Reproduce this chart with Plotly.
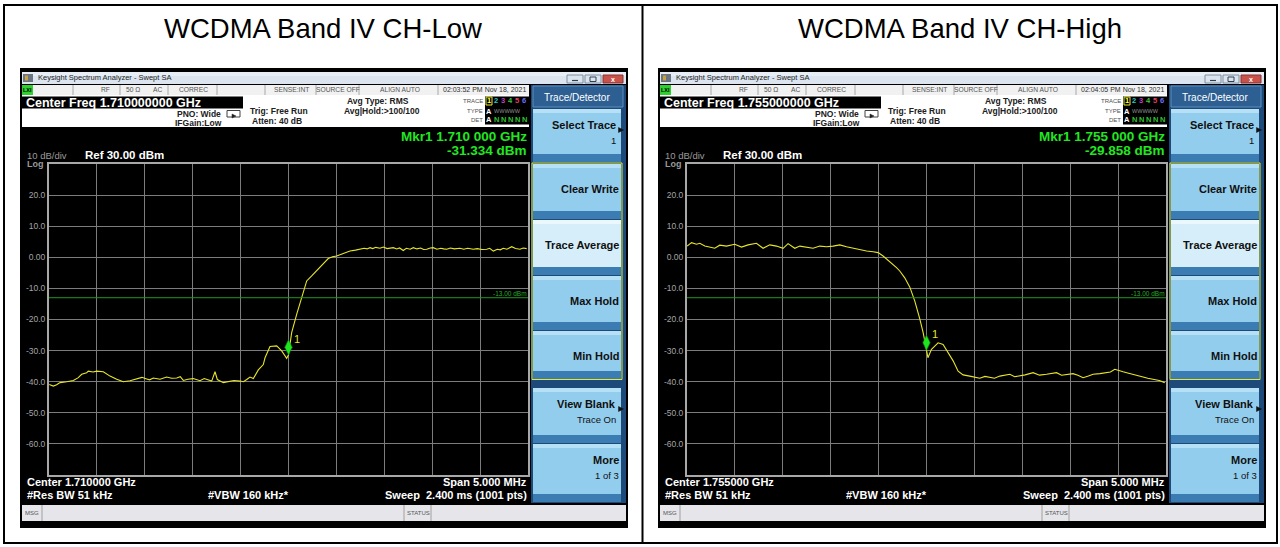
import plotly.graph_objects as go

W, H = 1280, 547

# ---------------- data ----------------
titles = ["WCDMA Band IV CH-Low", "WCDMA Band IV CH-High"]
center_freq_long = ["1.710000000", "1.755000000"]
center_freq_short = ["1.710000", "1.755000"]
timestamps = ["02:03:52 PM Nov 18, 2021", "02:04:05 PM Nov 18, 2021"]
marker_freq_text = ["1.710 000", "1.755 000"]
marker_offset_mhz = [0.0, 0.0]
marker_level_dbm = [-31.334, -29.858]
limit_dbm = -13.0
span_mhz = [-2.5, 2.5]
y_range = [-70, 30]
y_tickvals = [20, 10, 0, -10, -20, -30, -40, -50, -60]
y_ticktext = ["20.0", "10.0", "0.00", "-10.0", "-20.0", "-30.0", "-40.0", "-50.0", "-60.0"]
x_gridvals = [-2.0, -1.5, -1.0, -0.5, 0.0, 0.5, 1.0, 1.5, 2.0]

# CH-Low trace: frequency offset from centre (MHz) and level (dBm)
low_offset_mhz = [
    -2.497, -2.455, -2.42, -2.385, -2.315, -2.246, -2.194, -2.159, -2.107, -2.09,
    -2.04, -2.002, -1.933, -1.863, -1.793, -1.724, -1.655, -1.585, -1.53, -1.48,
    -1.45, -1.411, -1.341, -1.272, -1.22, -1.167, -1.13, -1.098, -1.05, -0.994,
    -0.96, -0.924, -0.88, -0.854, -0.802, -0.767, -0.743, -0.68, -0.611, -0.57,
    -0.506, -0.47, -0.436, -0.402, -0.367, -0.315, -0.263, -0.245, -0.193, -0.123,
    -0.071, -0.019, 0.0, 0.033, 0.086, 0.138, 0.19, 0.242, 0.294, 0.363,
    0.415, 0.46, 0.503, 0.572, 0.61, 0.642, 0.7, 0.746, 0.79, 0.82,
    0.851, 0.88, 0.91, 0.955, 0.99, 1.03, 1.06, 1.094, 1.13, 1.16,
    1.198, 1.23, 1.27, 1.303, 1.34, 1.38, 1.41, 1.443, 1.48, 1.511,
    1.55, 1.59, 1.62, 1.651, 1.69, 1.73, 1.79, 1.83, 1.87, 1.929,
    1.97, 2.02, 2.069, 2.1, 2.138, 2.18, 2.21, 2.242, 2.28, 2.33,
    2.37, 2.416, 2.45, 2.486]
low_level_dbm = [
    -40.9, -41.4, -41.0, -40.3, -40.0, -39.6, -38.7, -37.6, -37.1, -36.6,
    -36.9, -36.6, -36.8, -38.2, -39.2, -40.0, -39.7, -39.0, -38.6, -39.1,
    -39.4, -38.8, -39.2, -38.5, -38.9, -38.8, -38.4, -39.6, -39.2, -39.0,
    -39.4, -39.7, -39.0, -39.2, -39.8, -36.8, -39.3, -40.3, -40.0, -39.6,
    -39.8, -40.0, -39.3, -38.5, -39.0, -36.2, -34.5, -32.3, -28.7, -28.5,
    -30.1, -32.5, -31.334, -24.2, -18.3, -13.0, -7.6, -6.0, -4.4, -2.3,
    -0.4, 0.2, 0.4, 1.2, 1.6, 2.0, 2.3, 2.6, 2.9, 2.7,
    3.1, 2.8, 3.2, 2.9, 3.3, 2.8, 3.0, 3.1, 2.7, 3.0,
    2.2, 2.9, 2.6, 3.1, 2.7, 3.0, 2.5, 2.6, 3.0, 3.1,
    2.6, 2.9, 2.7, 2.6, 3.0, 2.7, 2.9, 2.6, 2.9, 2.6,
    2.8, 2.5, 2.6, 2.9, 2.0, 2.6, 2.4, 2.9, 2.6, 3.4,
    2.8, 2.6, 3.0, 2.8]

# CH-High trace
high_offset_mhz = [
    -2.499, -2.453, -2.401, -2.366, -2.314, -2.262, -2.21, -2.158, -2.088, -2.001,
    -1.931, -1.862, -1.775, -1.706, -1.636, -1.566, -1.497, -1.445, -1.375, -1.323,
    -1.253, -1.184, -1.114, -1.044, -0.975, -0.905, -0.835, -0.766, -0.696, -0.626,
    -0.557, -0.505, -0.453, -0.383, -0.313, -0.279, -0.227, -0.174, -0.122, -0.07,
    -0.035, 0.0, 0.015, 0.052, 0.121, 0.173, 0.225, 0.278, 0.33, 0.382,
    0.452, 0.5, 0.556, 0.61, 0.661, 0.71, 0.765, 0.82, 0.87, 0.92,
    0.974, 1.03, 1.113, 1.18, 1.253, 1.3, 1.357, 1.41, 1.461, 1.53,
    1.58, 1.635, 1.69, 1.739, 1.81, 1.879, 1.92, 1.965, 2.0, 2.052,
    2.1, 2.157, 2.21, 2.261, 2.31, 2.365, 2.43, 2.487]
high_level_dbm = [
    3.6, 4.7, 4.2, 4.5, 3.6, 3.3, 2.9, 3.9, 3.6, 4.2,
    3.3, 4.0, 4.5, 2.9, 4.0, 3.6, 2.9, 4.4, 2.9, 3.6,
    3.3, 2.9, 3.6, 3.4, 3.6, 4.0, 3.4, 2.9, 2.6, 2.0,
    1.8, 1.5, 0.4, -1.4, -3.3, -4.4, -6.6, -9.6, -14.1, -19.8,
    -24.2, -29.858, -32.3, -29.6, -27.5, -28.0, -30.7, -33.3, -36.6, -37.8,
    -38.2, -38.5, -38.9, -38.3, -38.7, -38.9, -38.2, -37.9, -37.6, -38.4,
    -38.2, -37.8, -37.1, -37.9, -37.6, -37.3, -37.1, -37.9, -37.6, -37.4,
    -37.9, -38.7, -38.2, -37.6, -37.4, -37.1, -36.9, -36.0, -36.4, -36.8,
    -37.2, -37.6, -37.9, -38.5, -38.9, -39.2, -39.6, -40.3]

traces_x = [low_offset_mhz, high_offset_mhz]
traces_y = [low_level_dbm, high_level_dbm]

buttons = [
    # (y0, y1, label, sublabel, arrow, light)
    (109, 162, "Select Trace", "1", True, False),
    (164, 219, "Clear Write", "", False, False),
    (220, 275, "Trace Average", "", False, True),
    (276, 330, "Max Hold", "", False, False),
    (331, 379, "Min Hold", "", False, False),
    (388, 443, "View Blank", "Trace On", True, False),
    (444, 502, "More", "1 of 3", False, False),
]

FONT = "Liberation Sans, Arial, sans-serif"
shapes = []
annots = []


def rect(x0, y0, x1, y1, fill, line=None, lw=0, layer="below"):
    shapes.append(dict(type="rect", xref="paper", yref="paper",
                       x0=x0 / W, x1=x1 / W, y0=1 - y1 / H, y1=1 - y0 / H,
                       fillcolor=fill, line=dict(color=line or "rgba(0,0,0,0)", width=lw),
                       layer=layer))


def seg(x0, y0, x1, y1, color, lw=1, layer="below"):
    shapes.append(dict(type="line", xref="paper", yref="paper",
                       x0=x0 / W, x1=x1 / W, y0=1 - y0 / H, y1=1 - y1 / H,
                       line=dict(color=color, width=lw), layer=layer))


def tri(x, y, s, color):
    p = "M{},{} L{},{} L{},{} Z".format((x - s) / W, 1 - (y - s) / H, (x + s) / W, 1 - y / H,
                                         (x - s) / W, 1 - (y + s) / H)
    shapes.append(dict(type="path", xref="paper", yref="paper", path=p,
                       fillcolor=color, line=dict(color=color, width=0.5), layer="below"))


def txt(x, y, s, size=9, color="#000000", xa="left", bold=False):
    annots.append(dict(xref="paper", yref="paper", x=x / W, y=1 - y / H,
                       text=("<b>" + s + "</b>") if bold else s, showarrow=False,
                       xanchor=xa, yanchor="middle", borderpad=0,
                       font=dict(size=size, color=color, family=FONT)))


fig = go.Figure()

cell_centres = [323, 960]
rect(4, 5, 1277, 543, "#ffffff", "#000000", 2)
seg(642.5, 5, 642.5, 543, "#000000", 2)

GREEN = "#22e622"

for i in range(2):
    dx = 0 if i == 0 else 638
    X = lambda v: v + dx
    txt(cell_centres[i], 28, titles[i], 27.5, "#000000", "center")

    # screenshot frame
    rect(X(20), 68, X(628), 528, "#000000")
    # window title bar
    rect(X(22), 72, X(626), 84, "#dbe4ef")
    rect(X(22), 72, X(626), 76, "#e8eef6")
    rect(X(23), 74, X(33), 82, "#6b7580")
    rect(X(25), 75.5, X(28), 80.5, "#c8a040")
    txt(X(37), 78, "Keysight Spectrum Analyzer - Swept SA", 7.5, "#222222")
    rect(X(567), 75, X(583), 83, "#dbe4ee", "#7d8ea0", 1)
    seg(X(572), 80.5, X(578), 80.5, "#304050", 1.2)
    rect(X(585), 75, X(601), 83, "#dbe4ee", "#7d8ea0", 1)
    rect(X(590), 77, X(596), 81.5, "rgba(0,0,0,0)", "#304050", 1)
    rect(X(603), 75, X(623), 83, "#c8524a", "#8a3030", 1)
    txt(X(613), 79, "x", 7, "#ffffff", "center", True)

    # status row
    rect(X(22), 85, X(529), 95, "#f1f1f1")
    for sx in [73, 120, 168, 217, 265, 316, 359, 438]:
        seg(X(sx), 85, X(sx), 95, "#a8a8a8", 1)
    rect(X(22), 85, X(33), 95, "#2fd12f")
    txt(X(27.5), 90, "LXI", 5.5, "#000000", "center", True)
    for sx, s in [(105, "RF"), (133, "50 Ω"), (157, "AC"), (193, "CORREC"),
                  (291, "SENSE:INT"), (337.5, "SOURCE OFF"), (400, "ALIGN AUTO")]:
        txt(X(sx), 90, s, 6.7, "#555555", "center")
    txt(X(484), 90, timestamps[i], 7, "#303030", "center")

    # info area
    rect(X(22), 95, X(529), 127, "#ffffff")
    rect(X(22), 96.5, X(243), 108.5, "#000000")
    txt(X(25), 103, "Center Freq " + center_freq_long[i] + " GHz", 12.5, "#ffffff", "left", True)
    txt(X(222), 114, "PNO: Wide", 8.5, "#202020", "right", True)
    txt(X(223), 123, "IFGain:Low", 8.5, "#202020", "right", True)
    rect(X(227), 110.5, X(240), 117, "rgba(0,0,0,0)", "#404040", 1)
    tri(X(234), 116, 2, "#202020")
    txt(X(249), 111, "Trig: Free Run", 8.5, "#202020", "left", True)
    txt(X(251), 121, "Atten: 40 dB", 8.5, "#202020", "left", True)
    txt(X(378), 101, "Avg Type: RMS", 8.5, "#202020", "center", True)
    txt(X(382), 111, "Avg|Hold:>100/100", 8.5, "#202020", "center", True)
    txt(X(484), 101, "TRACE", 6, "#505050", "right")
    txt(X(484), 111, "TYPE", 6, "#505050", "right")
    txt(X(484), 120, "DET", 6, "#505050", "right")
    rect(X(485), 96.5, X(529), 124.5, "#000000")
    rect(X(486), 97, X(492), 105, "rgba(0,0,0,0)", "#e8e830", 1)
    for k, col in enumerate(["#ffff40", "#30c8c8", "#c040c0", "#40c040", "#e04060", "#7070ff"]):
        txt(X(489 + 7 * k), 101, str(k + 1), 7.5, col, "center", True)
    txt(X(489), 111, "A", 7.5, "#ffffff", "center", True)
    txt(X(493), 111, "WWWWW", 5.5, "#909090", "left")
    txt(X(489), 120, "A", 7.5, "#ffffff", "center", True)
    for k in range(5):
        txt(X(496 + 7 * k), 120, "N", 7.5, "#30c030", "center", True)

    # labels above graticule
    txt(X(26), 156, "10 dB/div", 9.5, "#9a9a9a")
    txt(X(84), 155, "Ref 30.00 dBm", 11.5, "#ffffff", "left", True)
    txt(X(26), 163.5, "Log", 9, "#9a9a9a", "left", True)
    txt(X(528), 137, "Mkr1 " + marker_freq_text[i] + " GHz", 13.5, GREEN, "right", True)
    txt(X(528), 151, "{:.3f} dBm".format(marker_level_dbm[i]), 13.5, GREEN, "right", True)

    # bottom labels
    txt(X(26), 482, "Center " + center_freq_short[i] + " GHz", 11, "#ffffff", "left", True)
    txt(X(26), 495, "#Res BW 51 kHz", 11, "#ffffff", "left", True)
    txt(X(248), 495, "#VBW 160 kHz*", 11, "#ffffff", "center", True)
    txt(X(528), 482, "Span 5.000 MHz", 11, "#ffffff", "right", True)
    txt(X(528), 495, "Sweep  2.400 ms (1001 pts)", 11, "#ffffff", "right", True)

    # MSG bar
    rect(X(22), 505, X(626), 521, "#e6e6ea")
    for sx in [42, 404, 431]:
        seg(X(sx), 505, X(sx), 521, "#a0a0a0", 1)
    txt(X(24), 513, "MSG", 6, "#555555")
    txt(X(406), 513, "STATUS", 6, "#555555")

    # softkey column
    rect(X(531), 85, X(626), 503, "#1d4a78")
    rect(X(533), 86, X(623), 107, "#2d5f92", "#5d8fc0", 1)
    txt(X(577), 97, "Trace/Detector", 10, "#ffffff", "center")
    for (y0, y1, lab, sub, arrow, light) in buttons:
        rect(X(533), y0, X(621), y1, "#d6eefa" if light else "#93cded")
        rect(X(533), y0, X(621), y0 + 4, "#eaf7fd" if light else "#b6e0f5")
        rect(X(533), y1 - 8, X(621), y1, "#3b7db3")
        if sub:
            txt(X(617 if arrow else 620), y0 + 16, lab, 11, "#101010", "right", True)
            txt(X(617 if arrow else 620), y0 + 31, sub, 9.5, "#101010", "right")
        else:
            txt(X(620), y0 + 25, lab, 11, "#101010", "right", True)
        if arrow:
            tri(X(621), y0 + 21, 2.5, "#101010")
    rect(X(532), 163, X(622), 379.5, "rgba(0,0,0,0)", "#e8e830", 1)

    # ---- graticule (real axes) ----
    xa = "x" if i == 0 else "x2"
    ya = "y" if i == 0 else "y2"
    fig.add_trace(go.Scatter(x=traces_x[i], y=traces_y[i], mode="lines",
                             line=dict(color="#e6e628", width=1.1),
                             xaxis=xa, yaxis=ya, showlegend=False, hoverinfo="skip"))
    shapes.append(dict(type="line", xref=xa + " domain", yref=ya, x0=0, x1=1,
                       y0=limit_dbm, y1=limit_dbm, line=dict(color="#1f9a1f", width=1),
                       layer="above"))
    annots.append(dict(xref=xa + " domain", yref=ya, x=1, y=limit_dbm, xanchor="right",
                       yanchor="bottom", text="{:.2f} dBm".format(limit_dbm), showarrow=False,
                       borderpad=0, font=dict(size=6.5, color="#2aa82a", family=FONT)))
    shapes.append(dict(type="path", xref=xa, yref=ya, xsizemode="pixel", ysizemode="pixel",
                       xanchor=marker_offset_mhz[i], yanchor=marker_level_dbm[i],
                       path="M0,0 L3.6,7.5 L0,15 L-3.6,7.5 Z",
                       fillcolor="#1ee61e", line=dict(color="#0e9a0e", width=0.6), layer="above"))
    annots.append(dict(xref=xa, yref=ya, x=marker_offset_mhz[i], y=marker_level_dbm[i],
                       xanchor="left", yanchor="middle", xshift=3, yshift=16, text="1",
                       showarrow=False, font=dict(size=11, color="#e6e628", family=FONT)))

axis_common = dict(showgrid=True, gridcolor="#7c7c7c", gridwidth=1, zeroline=False,
                   showline=True, linecolor="#a8a8a8", linewidth=2, mirror=True,
                   ticks="", fixedrange=True)
xcommon = dict(axis_common, range=span_mhz, tickmode="array", tickvals=x_gridvals,
               showticklabels=False)
ycommon = dict(axis_common, range=y_range, tickmode="array", tickvals=y_tickvals,
               ticktext=y_ticktext, tickfont=dict(size=8.5, color="#a4a4a4", family=FONT),
               ticklabelstandoff=0)

y_dom = [1 - 475 / H, 1 - 164 / H]
fig.update_layout(
    width=W, height=H, margin=dict(l=0, r=0, t=0, b=0, pad=0),
    paper_bgcolor="#ffffff", plot_bgcolor="#000000", showlegend=False,
    xaxis=dict(xcommon, domain=[49 / W, 528 / W], anchor="y"),
    yaxis=dict(ycommon, domain=y_dom, anchor="x"),
    xaxis2=dict(xcommon, domain=[687 / W, 1166 / W], anchor="y2"),
    yaxis2=dict(ycommon, domain=y_dom, anchor="x2"),
    shapes=shapes, annotations=annots,
)

fig.write_html("out.html", config={"displayModeBar": False},
               post_script="document.body.style.margin='0';document.body.style.padding='0';document.body.style.overflow='hidden';")
